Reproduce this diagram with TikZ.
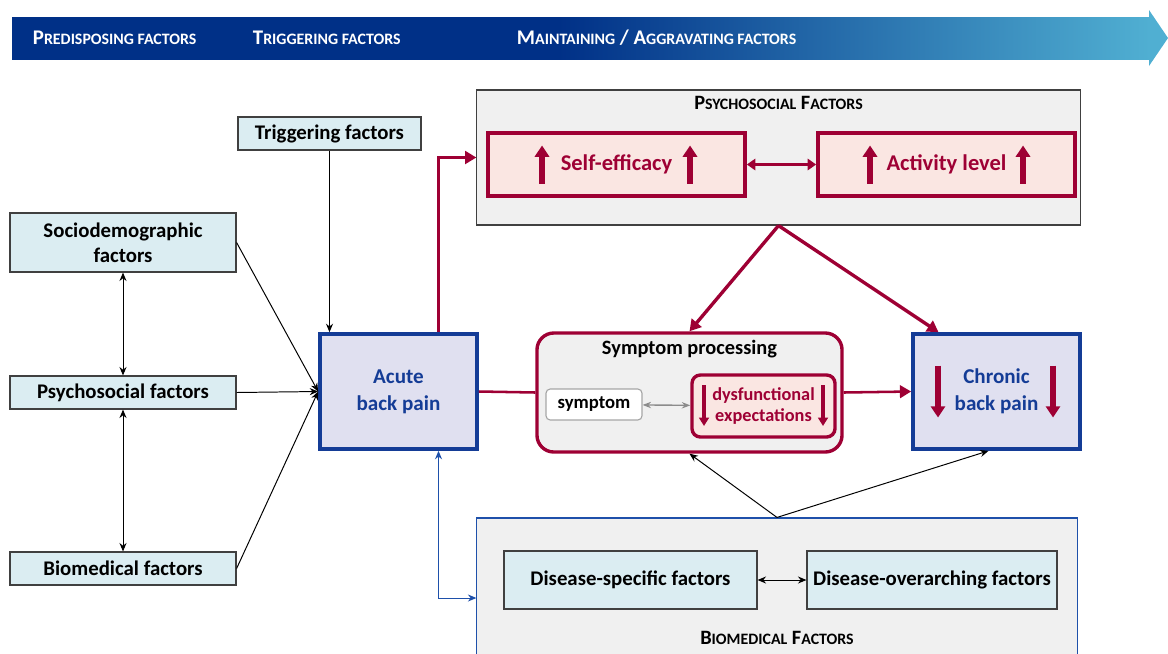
\documentclass[tikz,border=0pt]{standalone}
\usepackage{fontspec}
\setmainfont{Carlito}
\usetikzlibrary{arrows.meta, calc, positioning}
\definecolor{navy}{RGB}{0, 48, 135}
\definecolor{teal}{RGB}{80, 175, 210}
\definecolor{crimson}{RGB}{158, 0, 52}
\definecolor{boxblue}{RGB}{219, 237, 242}
\definecolor{lavender}{RGB}{224, 224, 240}
\definecolor{painblue}{RGB}{20, 60, 150}
\definecolor{pinkfill}{RGB}{250, 230, 226}
\definecolor{groupgray}{RGB}{240, 240, 240}
\definecolor{linkblue}{RGB}{30, 80, 170}
\pgfdeclarehorizontalshading{bannershade}{100bp}{color(0bp)=(navy); color(25bp)=(navy);
  color(49bp)=(navy); color(75bp)=(teal); color(100bp)=(teal)}
% fake small caps
\newcommand{\smc}[1]{{\fontsize{11.3}{13}\selectfont #1}}

\begin{document}
\begin{tikzpicture}[x=0.025cm, y=-0.025cm,
  every node/.style={font=\bfseries\fontsize{14.8}{17.5}\selectfont},
  factor/.style={rectangle, draw=black!75, fill=boxblue, line width=0.8pt,
                 minimum width=#1, align=center},
  pain/.style={rectangle, draw=painblue, fill=lavender, line width=2.6pt,
               text=painblue, minimum height=2.875cm, align=center,
               font=\bfseries\fontsize{15}{19}\selectfont},
  group/.style={rectangle, draw=#1, fill=groupgray, line width=0.8pt},
  posbox/.style={rectangle, draw=crimson, fill=pinkfill, line width=2.6pt,
                 text=crimson, minimum width=6.425cm, minimum height=1.575cm,
                 font=\bfseries\fontsize{16}{19}\selectfont},
  title/.style={font=\bfseries\fontsize{14.5}{17}\selectfont},
  arr/.style={-{Stealth[length=6pt, width=5pt]}, line width=0.7pt},
  darr/.style={{Stealth[length=6pt, width=5pt]}-{Stealth[length=6pt, width=5pt]}, line width=0.7pt},
  redarr/.style={-{Triangle[length=8pt, width=9pt]}, line width=2.4pt, crimson},
  indic/.style={-{Triangle[length=8pt, width=10pt]}, line width=3.6pt, crimson}
]
\useasboundingbox (0,0) rectangle (1168,653);

% banner
\shade[shading=bannershade] (12,17) rectangle (1150,59);
\fill[teal] (1149,10) -- (1168,38) -- (1149,66) -- cycle;
\node[text=white, anchor=west] (bpre) at (28,38) {P\smc{REDISPOSING FACTORS}};
\node[text=white, anchor=west] (btrig) at (248,38) {T\smc{RIGGERING FACTORS}};
\node[text=white, anchor=west] (bmain) at (512,38) {M\smc{AINTAINING} / A\smc{GGRAVATING FACTORS}};

% groups
\node[group=black!75, minimum width=15.075cm, minimum height=3.375cm] (psygroup) at (778.5,157.5) {};
\node[title, below=1pt of psygroup.north] (psytitle) {P\smc{SYCHOSOCIAL} F\smc{ACTORS}};
\node[group=linkblue, minimum width=15cm, minimum height=3.8cm] (biogroup) at (777,594) {};
\node[title] (biotitle) at (777,638) {B\smc{IOMEDICAL} F\smc{ACTORS}};

% predisposing / triggering
\node[factor=4.575cm, minimum height=0.825cm] (trig) at (329.5,133.5) {Triggering factors};
\node[factor=5.65cm, minimum height=1.475cm] (socio) at (123,242.5) {Sociodemographic\\factors};
\node[factor=5.65cm, minimum height=0.825cm] (psych) at (123,392.5) {Psychosocial factors};
\node[factor=5.65cm, minimum height=0.825cm] (biomed) at (123,568.5) {Biomedical factors};

% pain states
\node[pain, minimum width=3.925cm] (acute) at (398.5,391.5) {Acute\\back pain};
\node[pain, minimum width=4.175cm] (chronic) at (996.5,391.5) {Chronic\\back pain};

% psychosocial factors
\node[posbox] (selfeff) at (616.5,164.5) {Self-efficacy};
\node[posbox] (activity) at (946.5,164.5) {Activity level};

% symptom processing
\node[rectangle, rounded corners=12pt, draw=crimson, fill=groupgray, line width=2.4pt,
      minimum width=7.625cm, minimum height=2.975cm] (symproc) at (689.5,392.5) {};
\node[title, below=3pt of symproc.north] (symtitle) {Symptom processing};
\node[rectangle, rounded corners=3pt, draw=black!35, fill=white, line width=0.8pt,
      minimum width=2.4cm, minimum height=0.775cm, font=\bfseries\fontsize{13.3}{15}\selectfont] (symptom) at (594,404.5) {symptom};
\node[rectangle, rounded corners=6pt, draw=crimson, fill=pinkfill, line width=2.4pt, text=crimson,
      minimum width=3.575cm, minimum height=1.55cm, align=center,
      font=\bfseries\fontsize{13}{15}\selectfont] (dysfun) at (763.5,406) {dysfunctional\\expectations};

% biomedical factors
\node[factor=6.325cm, minimum height=1.45cm] (disspec) at (630.5,580) {Disease-specific factors};
\node[factor=6.25cm, minimum height=1.45cm] (disover) at (932,580) {Disease-overarching factors};

% up / down indicators
\draw[indic] ($(selfeff)+(-74.5,19)$) -- ++(0,-38);
\draw[indic] ($(selfeff)+(73.5,19)$) -- ++(0,-38);
\draw[indic] ($(activity)+(-76.5,19)$) -- ++(0,-38);
\draw[indic] ($(activity)+(76.5,19)$) -- ++(0,-38);
\draw[indic] ($(chronic)+(-58.5,-26)$) -- ++(0,52);
\draw[indic] ($(chronic)+(56.5,-26)$) -- ++(0,52);
\draw[indic, line width=2.2pt, -{Triangle[length=6pt, width=7pt]}] ($(dysfun)+(-59.5,-21)$) -- ++(0,41);
\draw[indic, line width=2.2pt, -{Triangle[length=6pt, width=7pt]}] ($(dysfun)+(59.5,-21)$) -- ++(0,41);

% connectors on the left
\draw[arr] (trig) -- (trig |- acute.north);
\draw[arr] (socio.east) -- (acute.west);
\draw[arr] (psych.east) -- (acute.west);
\draw[arr] (biomed.east) -- (acute.west);
\draw[darr] (socio) -- (psych);
\draw[darr] (psych) -- (biomed);

% maintaining connectors
\draw[redarr] ([xshift=1cm]acute.north) |- (psygroup.west);
\draw[crimson, line width=1.8pt] (acute.east) -- (symproc.west);
\draw[redarr, line width=1.8pt] (symproc.east) -- (chronic.west);
\draw[redarr] (psygroup.south) -- (symproc.north);
\draw[redarr] (psygroup.south) -- ($(chronic.north)+(-58,0)$);
\draw[crimson, line width=2pt, {Triangle[length=6pt, width=8pt]}-{Triangle[length=6pt, width=8pt]}] (selfeff) -- (activity);
\draw[black!45, line width=1pt, {Stealth[length=6pt]}-{Stealth[length=6pt]}] (symptom) -- (dysfun);
\draw[arr] (biogroup.north) -- (symproc.south);
\draw[arr] (biogroup.north) -- ($(chronic.south)+(-8,0)$);
\draw[darr] (disspec) -- (disover);
\draw[darr, linkblue] ([xshift=1cm]acute.south) |- ($(biogroup.west)+(0,4)$);
\end{tikzpicture}
\end{document}
